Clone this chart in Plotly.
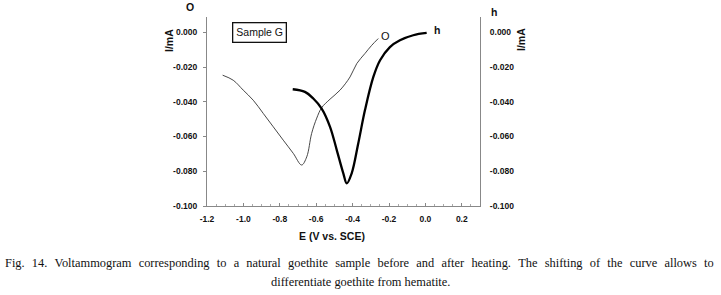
import plotly.graph_objects as go

# Goethite ("O") curve, before heating
o_x = [-1.114, -1.056, -1.001, -0.946, -0.891, -0.836, -0.781, -0.726, -0.680,
       -0.652, -0.625, -0.597, -0.570, -0.524, -0.469, -0.414, -0.377, -0.332, -0.295, -0.259]
o_y = [-0.0247, -0.0276, -0.0333, -0.0391, -0.0467, -0.0544, -0.0621, -0.0697, -0.0764,
       -0.0717, -0.0582, -0.0494, -0.0434, -0.0385, -0.0333, -0.0257, -0.0180, -0.0122, -0.0075, -0.0036]

# Hematite ("h") curve, after heating
h_x = [-0.729, -0.662, -0.616, -0.570, -0.524, -0.487, -0.451, -0.432, -0.405,
       -0.369, -0.332, -0.286, -0.249, -0.195, -0.140, -0.067, 0.007]
h_y = [-0.0328, -0.0343, -0.0381, -0.0439, -0.0544, -0.0678, -0.0812, -0.0870, -0.0812,
       -0.0640, -0.0448, -0.0257, -0.0161, -0.0085, -0.0046, -0.0017, -0.0004]

x_ticks = [-1.2, -1.0, -0.8, -0.6, -0.4, -0.2, 0.0, 0.2]
x_tick_labels = ["-1.2", "-1.0", "-0.8", "-0.6", "-0.4", "-0.2", "0.0", "0.2"]
y_ticks = [0.0, -0.02, -0.04, -0.06, -0.08, -0.1]
y_tick_labels = ["0.000", "-0.020", "-0.040", "-0.060", "-0.080", "-0.100"]

caption1 = ("Fig. 14. Voltammogram corresponding to a natural goethite sample before and after heating. "
            "The shifting of the curve allows to")
caption2 = "differentiate goethite from hematite."

YR = [-0.1, 0.0088]

fig = go.Figure()
fig.add_trace(go.Scatter(x=o_x, y=o_y, mode="lines", line=dict(color="#333333", width=0.9, shape="spline"),
                         showlegend=False))
fig.add_trace(go.Scatter(x=h_x, y=h_y, mode="lines", line=dict(color="#000000", width=2.3, shape="spline"),
                         showlegend=False))
# invisible trace for right axis
fig.add_trace(go.Scatter(x=[None], y=[None], yaxis="y2", showlegend=False))

tickfont = dict(family="Liberation Sans, Arial", size=8.5, color="#111111", weight="bold")
fig.update_layout(
    width=721, height=295,
    margin=dict(l=207, r=241, t=17, b=89),
    paper_bgcolor="white", plot_bgcolor="white",
    xaxis=dict(range=[-1.2, 0.3], tickvals=x_ticks, ticktext=x_tick_labels, tickfont=tickfont,
               showgrid=False, zeroline=False, showline=True, linecolor="#888888", linewidth=1.2,
               ticks="inside", ticklen=3, tickcolor="#888888", ticklabelstandoff=5,
               minor=dict(ticks="inside", ticklen=2, dtick=0.05, tickcolor="#aaaaaa")),
    yaxis=dict(range=YR, tickvals=y_ticks, ticktext=y_tick_labels, tickfont=tickfont,
               showgrid=False, zeroline=False, showline=True, linecolor="#888888", linewidth=1.2,
               ticks="outside", ticklen=3, tickcolor="#888888", ticklabelstandoff=4),
    yaxis2=dict(range=YR, overlaying="y", side="right", tickvals=y_ticks, ticktext=y_tick_labels,
                tickfont=tickfont, showgrid=False, zeroline=False, showline=True, linecolor="#888888",
                linewidth=1.2, ticks="", anchor="x", ticklabelstandoff=7),
)

afont = dict(family="Liberation Sans, Arial", size=10.5, color="#111111", weight="bold")
gap = " \u2004"
anns = [
    dict(x=190, y=7, text="O", font=afont),
    dict(x=169, y=41, text="I/mA", font=afont, textangle=-90),
    dict(x=494, y=12, text="h", font=afont),
    dict(x=521, y=40, text="I/mA", font=afont, textangle=-90),
    dict(x=385, y=36, text="O", font=dict(family="Liberation Sans, Arial", size=11, color="#111111")),
    dict(x=437, y=30, text="h", font=afont),
    dict(x=259, y=32, text="Sample G", font=dict(family="Liberation Sans, Arial", size=10.5, color="#111111"),
         bordercolor="#111111", borderwidth=1.3, borderpad=3),
    dict(x=332, y=236, text="E (V vs. SCE)", font=afont),
    dict(x=3, y=263, text=caption1.replace(" ", gap), xanchor="left",
         font=dict(family="Liberation Serif, Times New Roman", size=12.4, color="#111111")),
    dict(x=360, y=282, text=caption2, xanchor="center",
         font=dict(family="Liberation Serif, Times New Roman", size=12.4, color="#111111")),
]
for a in anns:
    d = dict(xref="paper", yref="paper", showarrow=False, xanchor=a.get("xanchor", "center"), yanchor="middle")
    d.update({k: v for k, v in a.items() if k not in ("x", "y", "xanchor")})
    d["x"] = (a["x"] - 207) / (721 - 207 - 241)
    d["y"] = (295 - 89 - a["y"]) / (295 - 17 - 89)
    fig.add_annotation(**d)

fig.write_html("out.html", config={"displayModeBar": False},
               post_script="document.body.style.margin='0px';")
